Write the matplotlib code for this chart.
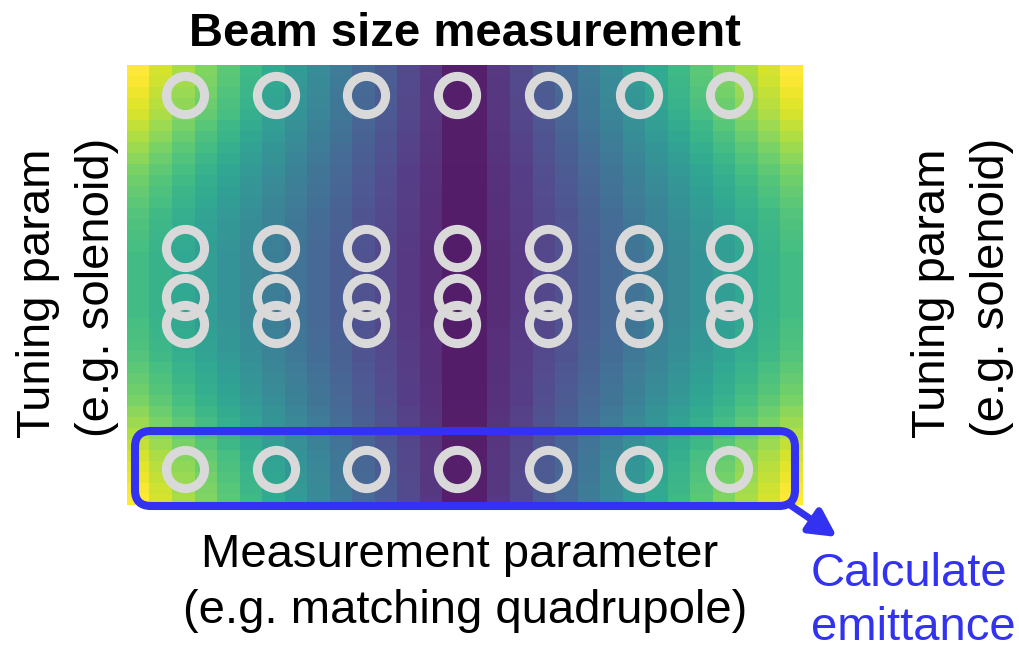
import numpy as np
import matplotlib.pyplot as plt
from matplotlib.patches import FancyBboxPatch
from matplotlib.transforms import IdentityTransform

plt.rcParams["font.family"] = ["Liberation Sans", "DejaVu Sans"]

# beam size map: 30 quad settings (columns) x 40 solenoid settings (rows)
col_profile = [1.00, 0.93, 0.86, 0.79, 0.72, 0.65, 0.58, 0.51, 0.44, 0.37,
               0.30, 0.24, 0.17, 0.11, 0.03, 0.03, 0.11, 0.17, 0.24, 0.30,
               0.37, 0.44, 0.51, 0.58, 0.65, 0.72, 0.79, 0.86, 0.93, 1.00]
row_scale = [1.00, 0.99, 0.97, 0.95, 0.93, 0.90, 0.87, 0.84, 0.81, 0.78,
             0.76, 0.74, 0.72, 0.70, 0.69, 0.68, 0.67, 0.66, 0.66, 0.66,
             0.66, 0.66, 0.66, 0.67, 0.68, 0.69, 0.70, 0.72, 0.74, 0.76,
             0.78, 0.81, 0.84, 0.87, 0.90, 0.93, 0.95, 0.97, 0.99, 1.00]

# measured points (quad index, solenoid index)
meas_x = [2.57, 6.6, 10.6, 14.65, 18.7, 22.7, 26.7]
tune_y = [2.7, 16.6, 21.1, 23.5, 36.7]

W, H = 1019, 649
blue = "#3232f0"
fs = 34

fig = plt.figure(figsize=(W / 100, H / 100), dpi=100)
ax = fig.add_axes([127 / W, 1 - 505 / H, 676 / W, 440 / H])

Z = np.outer(row_scale, col_profile)
ax.imshow(Z, cmap="viridis", vmin=0, vmax=1, alpha=0.92, aspect="auto",
          interpolation="nearest", extent=(0, len(col_profile), len(row_scale), 0))

for y in tune_y:
    ax.plot(meas_x, [y] * len(meas_x), "o", mfc="none", mec="#d9d9d9",
            ms=27.5, mew=6.5, clip_on=False)
ax.set_xlim(0, len(col_profile))
ax.set_ylim(len(row_scale), 0)
ax.axis("off")


def ftext(x, y, s, **kw):
    fig.text(x / W, 1 - y / H, s, fontsize=fs, **kw)


ftext(465, 46, "Beam size measurement", ha="center", va="baseline", fontweight="bold")
ftext(460, 567, "Measurement parameter", ha="center", va="baseline")
ftext(465, 623, "(e.g. matching quadrupole)", ha="center", va="baseline")

for x0 in [50, 945]:
    ftext(x0, 293, "Tuning param", rotation=90, rotation_mode="anchor",
          ha="center", va="baseline")
    ftext(x0 + 59, 287, "(e.g. solenoid)", rotation=90, rotation_mode="anchor",
          ha="center", va="baseline")

ftext(811, 586, "Calculate", color=blue, ha="left", va="baseline")
ftext(811, 640, "emittance", color=blue, ha="left", va="baseline")

# box around the bottom row of points
box = FancyBboxPatch((135, H - 506), 660, 75, boxstyle="round,pad=0,rounding_size=16",
                     transform=IdentityTransform(), fill=False, ec=blue, lw=5.8)
fig.add_artist(box)

ax.annotate("", xy=(837, H - 537), xycoords="figure pixels",
            xytext=(790, H - 505), textcoords="figure pixels",
            arrowprops=dict(arrowstyle="-|>,head_length=0.8,head_width=0.42",
                            mutation_scale=20, lw=5, color=blue,
                            shrinkA=0, shrinkB=0))

fig.savefig("out.png", dpi=100)
